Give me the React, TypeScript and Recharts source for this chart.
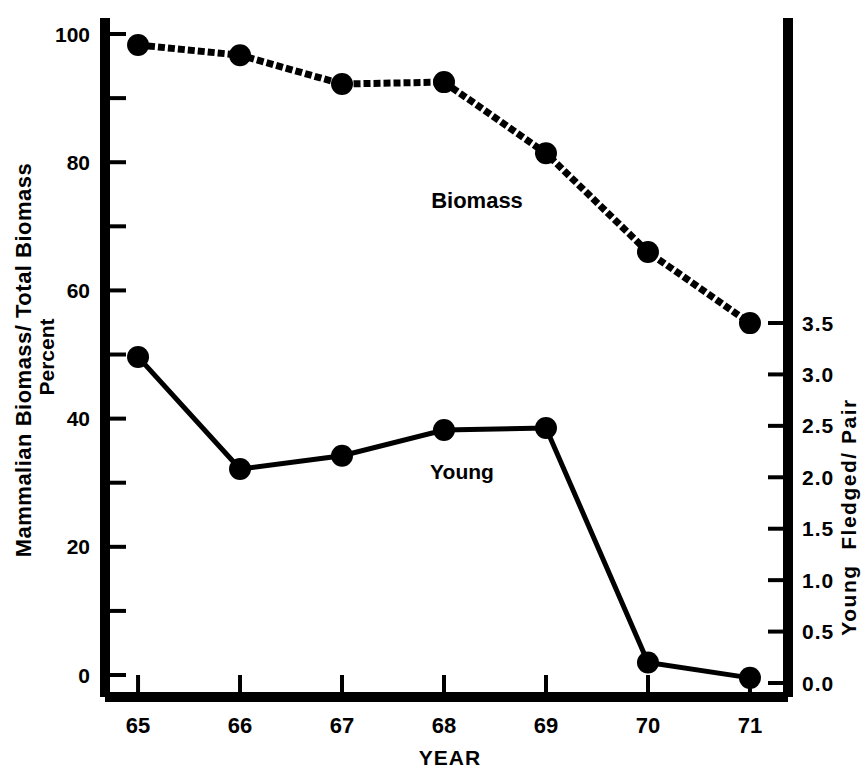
import React from 'react';
import { LineChart, Line, XAxis, YAxis } from 'recharts';

const years = [65, 66, 67, 68, 69, 70, 71];
const biomassPercent = [98.3, 96.7, 92.2, 92.5, 81.4, 66.0, 54.9];
const youngPerPair = [3.17, 2.08, 2.21, 2.46, 2.48, 0.2, 0.05];
const leftTicks = [0, 10, 20, 30, 40, 50, 60, 70, 80, 90, 100];
const leftLabeled = [0, 20, 40, 60, 80, 100];
const rightTicks = [0, 0.5, 1, 1.5, 2, 2.5, 3, 3.5];
const xTicks = [65, 66, 67, 68, 69, 70, 71];

const data = years.map((y, i) => ({ year: y, biomass: biomassPercent[i], young: youngPerPair[i] }));

const FONT = '"Liberation Sans", Arial, Helvetica, sans-serif';
const textStyle = { fontFamily: FONT, fontWeight: 700, fill: '#000' } as const;

const LeftTick = (props: any) => {
  const { x, y, payload } = props;
  const v = payload.value;
  return (
    <g>
      <line x1={x + 4} x2={x + 21} y1={y} y2={y} stroke="#000" strokeWidth={4} />
      {leftLabeled.includes(v) && (
        <text x={x - 15} y={y} dy="0.36em" textAnchor="end" fontSize={21} style={textStyle}>
          {v}
        </text>
      )}
    </g>
  );
};

const RightTick = (props: any) => {
  const { x, y, payload } = props;
  const v = payload.value;
  return (
    <g>
      <line x1={x - 4} x2={x - 20} y1={y} y2={y} stroke="#000" strokeWidth={4} />
      <text x={x + 14} y={y} dy="0.36em" textAnchor="start" fontSize={21} letterSpacing={1} style={textStyle}>
        {v.toFixed(1)}
      </text>
    </g>
  );
};

const BottomTick = (props: any) => {
  const { x, y, payload } = props;
  return (
    <g>
      <line x1={x} x2={x} y1={y - 4} y2={y - 22} stroke="#000" strokeWidth={4} />
      <text x={x} y={y + 36} textAnchor="middle" fontSize={22} style={textStyle}>
        {payload.value}
      </text>
    </g>
  );
};

const RotText = ({ cx, cy, size, spacing, children }: any) => (
  <text
    x={cx}
    y={cy + size * 0.36}
    transform={`rotate(-90, ${cx}, ${cy})`}
    textAnchor="middle"
    fontSize={size}
    letterSpacing={spacing || 0}
    style={textStyle}
  >
    {children}
  </text>
);

export default function App() {
  return (
    <div style={{ position: 'absolute', left: 0, top: 0, width: 862, height: 770, background: '#fff' }}>
      <LineChart
        width={862}
        height={770}
        data={data}
        margin={{ top: 18, right: 14, bottom: 23, left: 45 }}
      >
        <XAxis
          dataKey="year"
          type="number"
          domain={[64.676, 71.373]}
          allowDataOverflow
          ticks={xTicks}
          interval={0}
          height={50}
          tickSize={0}
          tickMargin={0}
          tickLine={false}
          axisLine={{ stroke: '#000', strokeWidth: 10 }}
          tick={<BottomTick />}
        />
        <YAxis
          yAxisId="left"
          orientation="left"
          type="number"
          domain={[-3.43, 102.5]}
          allowDataOverflow
          ticks={leftTicks}
          interval={0}
          width={60}
          tickSize={0}
          tickMargin={0}
          tickLine={false}
          axisLine={{ stroke: '#000', strokeWidth: 10 }}
          tick={<LeftTick />}
        />
        <YAxis
          yAxisId="right"
          orientation="right"
          type="number"
          domain={[-0.136, 6.465]}
          allowDataOverflow
          ticks={rightTicks}
          interval={0}
          width={60}
          tickSize={0}
          tickMargin={0}
          tickLine={false}
          axisLine={{ stroke: '#000', strokeWidth: 10 }}
          tick={<RightTick />}
        />
        <Line
          yAxisId="left"
          dataKey="biomass"
          type="linear"
          stroke="#000"
          strokeWidth={7}
          strokeDasharray="7 3"
          dot={{ r: 11, fill: '#000', stroke: '#000', strokeWidth: 0 }}
          isAnimationActive={false}
        />
        <Line
          yAxisId="right"
          dataKey="young"
          type="linear"
          stroke="#000"
          strokeWidth={5}
          dot={{ r: 11, fill: '#000', stroke: '#000', strokeWidth: 0 }}
          isAnimationActive={false}
        />
        <RotText cx={23} cy={360} size={22} spacing={0.5}>Mammalian Biomass/ Total Biomass</RotText>
        <RotText cx={46} cy={357} size={21}>Percent</RotText>
        <RotText cx={848} cy={517} size={21} spacing={1.5}>{'Young\u00a0\u00a0Fledged/ Pair'}</RotText>
        <text x={477} y={208} textAnchor="middle" fontSize={22} style={textStyle}>Biomass</text>
        <text x={462} y={479} textAnchor="middle" fontSize={21} style={textStyle}>Young</text>
        <text x={450} y={765} textAnchor="middle" fontSize={21} letterSpacing={1} style={textStyle}>YEAR</text>
      </LineChart>
    </div>
  );
}
